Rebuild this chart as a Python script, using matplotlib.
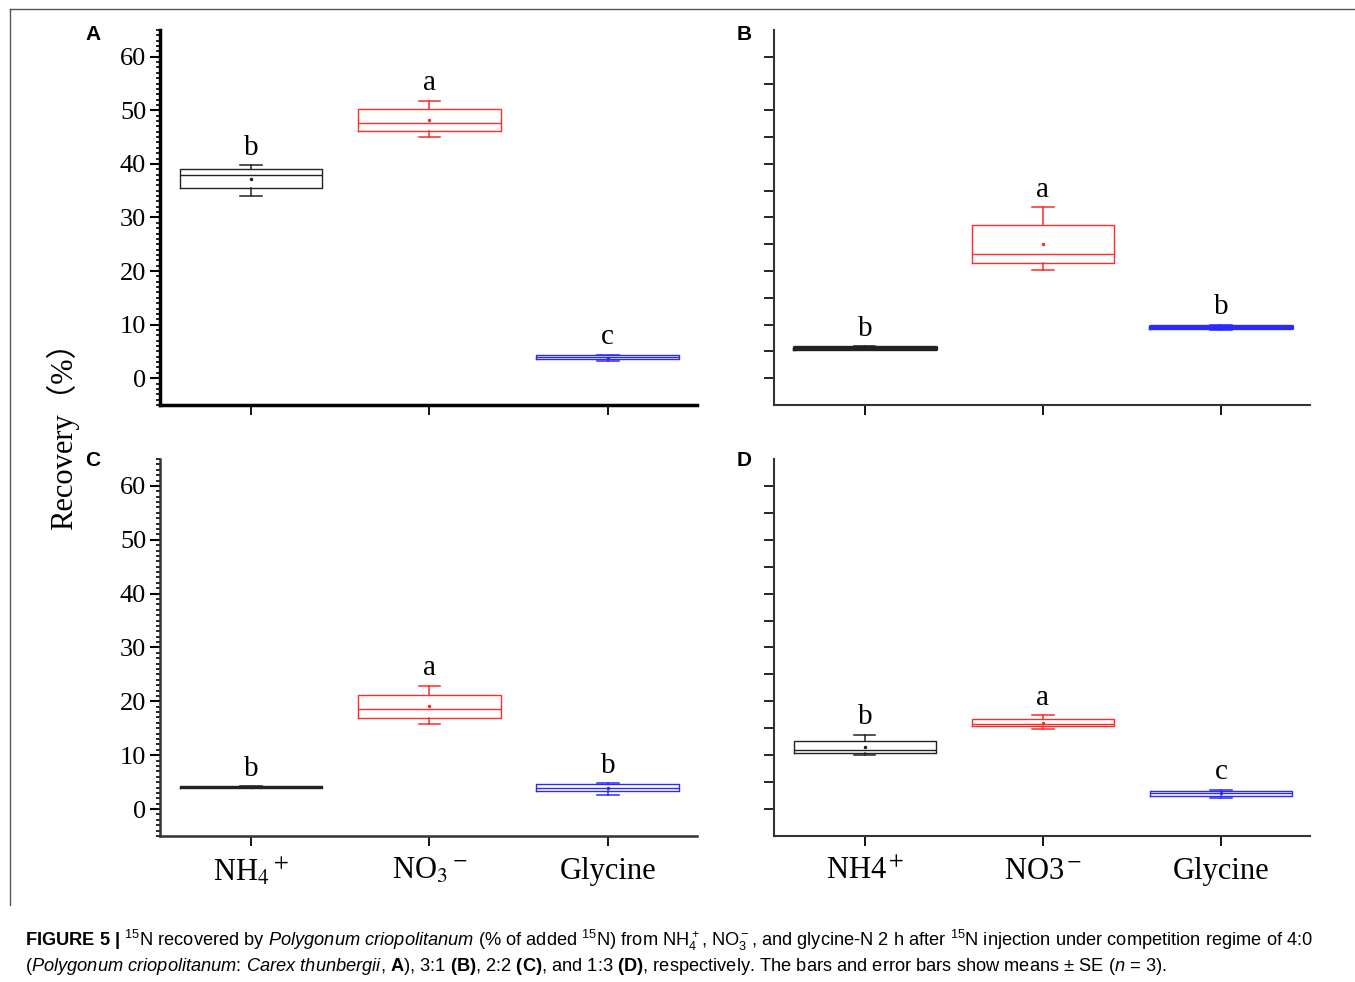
import matplotlib
matplotlib.use("Agg")
from matplotlib import pyplot as plt
from matplotlib.ticker import MultipleLocator
from matplotlib.lines import Line2D

plt.rcParams["mathtext.rm"] = "Liberation Sans"
plt.rcParams["mathtext.it"] = "Liberation Sans:italic"
plt.rcParams["mathtext.bf"] = "Liberation Sans:bold"
plt.rcParams["mathtext.sf"] = "Liberation Sans"

positions = [1, 2, 3]
colors = ["#222222", "#ff2a2a", "#2a2aff"]

# panel A (4:0)
A_lo = [34.0, 45.1, 3.2]
A_q1 = [35.5, 46.1, 3.5]
A_med = [38.0, 47.6, 3.9]
A_mean = [37.2, 48.2, 3.8]
A_q3 = [39.0, 50.2, 4.3]
A_hi = [39.7, 51.8, 4.4]
A_letters = ["b", "a", "c"]

# panel B (3:1)
B_lo = [5.4, 20.2, 9.0]
B_q1 = [5.5, 21.5, 9.3]
B_med = [5.7, 23.2, 9.5]
B_mean = [5.7, 25.0, 9.5]
B_q3 = [5.9, 28.6, 9.8]
B_hi = [6.0, 31.9, 10.0]
B_letters = ["b", "a", "b"]

# panel C (2:2)
C_lo = [4.0, 15.7, 2.7]
C_q1 = [4.0, 16.9, 3.3]
C_med = [4.1, 18.6, 3.9]
C_mean = [4.1, 19.1, 3.9]
C_q3 = [4.2, 21.1, 4.6]
C_hi = [4.2, 22.9, 4.8]
C_letters = ["b", "a", "b"]

# panel D (1:3)
D_lo = [10.0, 14.9, 2.0]
D_q1 = [10.4, 15.4, 2.4]
D_med = [10.9, 15.7, 2.9]
D_mean = [11.6, 16.0, 2.9]
D_q3 = [12.7, 16.8, 3.35]
D_hi = [13.8, 17.4, 3.6]
D_letters = ["b", "a", "c"]

labels_C = [r"NH$_4$$^+$", r"NO$_3$$^-$", "Glycine"]
labels_D = [r"NH4$^+$", r"NO3$^-$", "Glycine"]

panels = [
    ("A", [0.1181, 0.5876, 0.3963, 0.3819], A_lo, A_q1, A_med, A_mean, A_q3, A_hi, A_letters, None, 2.5),
    ("B", [0.5712, 0.5876, 0.3956, 0.3819], B_lo, B_q1, B_med, B_mean, B_q3, B_hi, B_letters, None, 1.5),
    ("C", [0.1181, 0.1487, 0.3963, 0.3839], C_lo, C_q1, C_med, C_mean, C_q3, C_hi, C_letters, labels_C, 1.8),
    ("D", [0.5712, 0.1487, 0.3956, 0.3839], D_lo, D_q1, D_med, D_mean, D_q3, D_hi, D_letters, labels_D, 1.5),
]

fig = plt.figure(figsize=(13.55, 9.82), dpi=100)

for name, rect, lo, q1, med, mean, q3, hi, letters, xlabels, spw in panels:
    ax = fig.add_axes(rect)
    for i, pos in enumerate(positions):
        stats = [dict(whislo=lo[i], q1=q1[i], med=med[i], mean=mean[i], q3=q3[i], whishi=hi[i], fliers=[])]
        c = colors[i]
        lw = 2.4 if name == "B" and i != 1 else 1.0
        ax.bxp(stats, positions=[pos], widths=0.8, capwidths=0.12, showmeans=True,
               manage_ticks=False,
               boxprops=dict(color=c, lw=lw),
               medianprops=dict(color=c, lw=lw),
               whiskerprops=dict(color=c, lw=1.1),
               capprops=dict(color=c, lw=1.1),
               meanprops=dict(marker=".", markersize=3, markerfacecolor=c, markeredgecolor=c))
        ax.annotate(letters[i], xy=(pos, hi[i]), xytext=(0, 7.5), textcoords="offset points",
                    ha="center", va="baseline", fontsize=21, family="Liberation Serif")
    ax.set_xlim(0.49, 3.5)
    ax.set_ylim(-5, 65)
    for s in ["top", "right"]:
        ax.spines[s].set_visible(False)
    for s in ["left", "bottom"]:
        ax.spines[s].set_linewidth(spw)
        ax.spines[s].set_color("black" if name == "A" else "#333333")
    ax.set_xticks(positions)
    if xlabels is None:
        ax.set_xticklabels([])
    else:
        ax.set_xticklabels(xlabels, fontsize=22, family="Liberation Serif", math_fontfamily="stix")
    ax.tick_params(axis="x", direction="out", length=7, width=1.3, pad=8)
    if name in ("A", "C"):
        ax.set_yticks(range(0, 61, 10))
        ax.yaxis.set_minor_locator(MultipleLocator(1))
        ax.tick_params(axis="y", which="major", direction="out", length=7, width=1.5, pad=3)
        ax.tick_params(axis="y", which="minor", direction="out", length=3, width=1.2)
        for t in ax.get_yticklabels():
            t.set_fontsize(19)
            t.set_family("Liberation Serif")
    else:
        ax.set_yticks(range(0, 61, 5))
        ax.set_yticklabels([])
        ax.tick_params(axis="y", direction="out", length=7, width=1.2)

# panel letters
for name, x, y in [("A", 93, 35), ("B", 744, 35), ("C", 93, 460), ("D", 744, 460)]:
    fig.text(x / 1355, 1 - y / 982, name, ha="center", va="center", fontsize=15,
             fontweight="bold", family="Liberation Sans")

fig.text(62 / 1355, 1 - 428 / 982, "Recovery（%）", rotation=90, ha="center", va="center",
         fontsize=22, family=["Liberation Serif", "Noto Sans CJK SC"])

# frame lines
fig.add_artist(Line2D([10 / 1355, 1], [1 - 9 / 982, 1 - 9 / 982], color="#555555", lw=1))
fig.add_artist(Line2D([9.5 / 1355, 9.5 / 1355], [1 - 9 / 982, 1 - 905 / 982], color="#555555", lw=1))

cap1 = (r"$\mathbf{FIGURE\ 5\ |}$ $^{15}$N recovered by $\mathit{Polygonum\ criopolitanum}$ "
        r"(% of added $^{15}$N) from NH$_4^+$, NO$_3^-$, and glycine-N 2 h after $^{15}$N "
        r"injection under competition regime of 4:0")
cap2 = (r"($\mathit{Polygonum\ criopolitanum}$: $\mathit{Carex\ thunbergii}$, $\mathbf{A}$), "
        r"3:1 $\mathbf{(B)}$, 2:2 $\mathbf{(C)}$, and 1:3 $\mathbf{(D)}$, respectively. "
        r"The bars and error bars show means ± SE ($\mathit{n}$ = 3).")
fig.text(25 / 1355, 1 - 946 / 982, cap1, ha="left", va="baseline", fontsize=13.15,
         family="Liberation Sans", math_fontfamily="custom")
fig.text(25 / 1355, 1 - 971 / 982, cap2, ha="left", va="baseline", fontsize=13.15,
         family="Liberation Sans", math_fontfamily="custom")

fig.savefig("out.png", dpi=100)
plt.close()
